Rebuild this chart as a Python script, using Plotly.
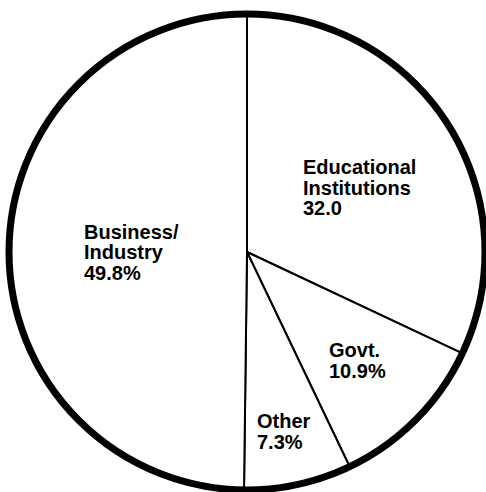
import plotly.graph_objects as go

# Share of recipients by sector (clockwise from 12 o'clock)
sectors = ["Educational Institutions", "Govt.", "Other", "Business/Industry"]
label_lines = [["Educational", "Institutions"], ["Govt."], ["Other"], ["Business/", "Industry"]]
values = [32.0, 10.9, 7.3, 49.8]
value_suffix = ["", "%", "%", "%"]

W, H = 486, 492
PIE_DOMAIN_X = [9 / W, 485 / W]
PIE_DOMAIN_Y = [1 - 490 / H, 1 - 14 / H]

fig = go.Figure()

# Slices with thin dividing lines
fig.add_trace(go.Pie(
    labels=sectors,
    values=values,
    sort=False,
    direction="clockwise",
    rotation=0,
    marker=dict(colors=["white"] * len(values), line=dict(color="black", width=2)),
    textinfo="none",
    hoverinfo="label+value",
    showlegend=False,
    domain=dict(x=PIE_DOMAIN_X, y=PIE_DOMAIN_Y),
))

# Heavier outer rim drawn as a single full slice on top
fig.add_trace(go.Pie(
    labels=["rim"],
    values=[sum(values)],
    marker=dict(colors=["rgba(0,0,0,0)"], line=dict(color="black", width=7)),
    textinfo="none",
    hoverinfo="skip",
    showlegend=False,
    domain=dict(x=PIE_DOMAIN_X, y=PIE_DOMAIN_Y),
))

# Label block anchors (left edge, top of first line) in pixels
label_anchor_px = [(302, 155), (328, 338), (256, 409), (83, 220)]
LINE_PITCH = 20.5
FONT = dict(family="Liberation Sans", size=20, color="black")

annotations = []
for lines, v, suf, (px, py) in zip(label_lines, values, value_suffix, label_anchor_px):
    all_lines = lines + [f"{v:.1f}{suf}"]
    for i, line in enumerate(all_lines):
        annotations.append(dict(
            x=px / W,
            y=1 - (py + i * LINE_PITCH) / H,
            xref="paper", yref="paper",
            xanchor="left", yanchor="top",
            text=f"<b>{line}</b>",
            showarrow=False,
            font=FONT,
            borderpad=0,
        ))

fig.update_layout(
    width=W, height=H,
    margin=dict(l=0, r=0, t=0, b=0),
    paper_bgcolor="white",
    plot_bgcolor="white",
    annotations=annotations,
)

fig.write_html("out.html")
